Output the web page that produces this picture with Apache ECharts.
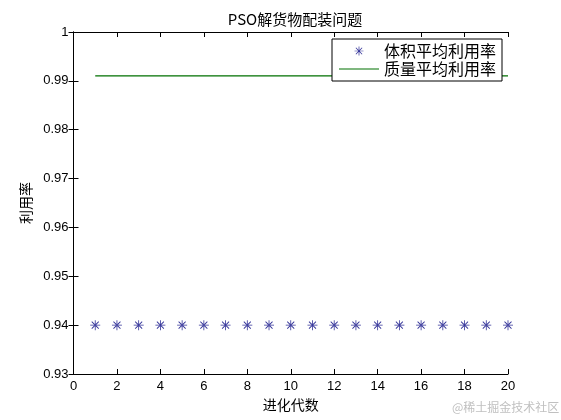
<!DOCTYPE html>
<html>
<head>
<meta charset="utf-8">
<script src="https://cdn.jsdelivr.net/npm/echarts@6/dist/echarts.min.js"></script>
<style>
  html, body { margin: 0; padding: 0; background: #fff; }
  #chart { width: 561px; height: 420px; }
</style>
</head>
<body>
<div id="chart"></div>
<script>
// generations 1..20
const generations = [1, 2, 3, 4, 5, 6, 7, 8, 9, 10, 11, 12, 13, 14, 15, 16, 17, 18, 19, 20]
// 体积平均利用率
const volumeRate = [0.94, 0.94, 0.94, 0.94, 0.94, 0.94, 0.94, 0.94, 0.94, 0.94,
  0.94, 0.94, 0.94, 0.94, 0.94, 0.94, 0.94, 0.94, 0.94, 0.94]
// 质量平均利用率
const massRate = [0.991, 0.991, 0.991, 0.991, 0.991, 0.991, 0.991, 0.991, 0.991, 0.991,
  0.991, 0.991, 0.991, 0.991, 0.991, 0.991, 0.991, 0.991, 0.991, 0.991]
const seriesNames = ['体积平均利用率', '质量平均利用率']

// asterisk marker made of thin bars
const starBody = 'M-0.8,-10L0.8,-10L0.8,10L-0.8,10Z' +
  'M-10,-0.8L-10,0.8L10,0.8L10,-0.8Z' +
  'M-6.4,-7.6L7.6,6.4L6.4,7.6L-7.6,-6.4Z' +
  'M6.4,-7.6L7.6,-6.4L-6.4,7.6L-7.6,6.4Z'
const star = 'path://' + starBody
// legend icons: tiny corner dots fix the 40x16 box so the shape is not stretched
const starIcon = 'path://M-44.4,-17.8L-44.39,-17.8L-44.39,-17.79Z' + starBody +
  'M44.4,17.8L44.39,17.8L44.39,17.79Z'
const lineIcon = 'path://M0,0L0.01,0L0.01,0.01Z M0,7.5L40,7.5L40,8.6L0,8.6Z M40,16L39.99,16L39.99,15.99Z'

const font = 'Liberation Sans, Arial, sans-serif'
const cjk = 'Noto Sans CJK SC, sans-serif'

const chart = echarts.init(document.getElementById('chart'))
const axisLine = { show: true, lineStyle: { color: '#000', width: 1 } }
const axisTick = { show: true, inside: true, length: 5, lineStyle: { color: '#000' } }

let options = {
  backgroundColor: '#fff',
  animation: false,
  title: {
    text: 'PSO解货物配装问题',
    left: 290,
    textAlign: 'center',
    top: 7,
    textStyle: { fontSize: 15, fontWeight: 'normal', color: '#000', fontFamily: cjk }
  },
  legend: {
    data: [
      { name: seriesNames[0], icon: starIcon },
      { name: seriesNames[1], icon: lineIcon }
    ],
    orient: 'vertical',
    left: 332,
    top: 39,
    padding: [4, 6, 4, 7],
    itemGap: 2,
    itemWidth: 40,
    itemHeight: 16,
    borderColor: '#000',
    borderWidth: 1,
    borderRadius: 0,
    backgroundColor: '#fff',
    textStyle: { fontSize: 16, color: '#000', fontFamily: cjk }
  },
  grid: { left: 73.5, right: 53, top: 32, bottom: 46 },
  xAxis: [
    {
      type: 'value',
      min: 0,
      max: 20,
      interval: 2,
      name: '进化代数',
      nameLocation: 'middle',
      nameGap: 24,
      nameTextStyle: { fontSize: 14, color: '#000', fontFamily: cjk },
      axisLine: axisLine,
      axisTick: axisTick,
      splitLine: { show: false },
      axisLabel: { color: '#000', fontSize: 13, margin: 6, fontFamily: font }
    },
    {
      type: 'value',
      position: 'top',
      min: 0,
      max: 20,
      interval: 2,
      axisLine: axisLine,
      axisTick: axisTick,
      splitLine: { show: false },
      axisLabel: { show: false }
    }
  ],
  yAxis: [
    {
      type: 'value',
      min: 0.93,
      max: 1,
      interval: 0.01,
      name: '利用率',
      nameLocation: 'middle',
      nameGap: 40,
      nameRotate: 90,
      nameTextStyle: { fontSize: 14, color: '#000', fontFamily: cjk },
      axisLine: axisLine,
      axisTick: axisTick,
      splitLine: { show: false },
      axisLabel: {
        color: '#000',
        fontSize: 13,
        margin: 5,
        fontFamily: font,
        formatter: v => String(+v.toFixed(2))
      }
    },
    {
      type: 'value',
      position: 'right',
      min: 0.93,
      max: 1,
      interval: 0.01,
      axisLine: axisLine,
      axisTick: axisTick,
      splitLine: { show: false },
      axisLabel: { show: false }
    }
  ],
  graphic: [
    {
      type: 'text',
      left: 452,
      top: 401,
      style: { text: '@稀土掘金技术社区', fill: '#c0c0c0', fontSize: 12, fontFamily: cjk }
    }
  ],
  series: [
    {
      name: seriesNames[0],
      type: 'scatter',
      symbol: star,
      symbolSize: 10,
      itemStyle: { color: '#000080' },
      data: generations.map((g, i) => [g, volumeRate[i]])
    },
    {
      name: seriesNames[1],
      type: 'line',
      showSymbol: false,
      symbol: 'none',
      lineStyle: { color: '#007000', width: 1.2 },
      itemStyle: { color: '#007000' },
      data: generations.map((g, i) => [g, massRate[i]])
    }
  ]
}
chart.setOption(options)
</script>
</body>
</html>
